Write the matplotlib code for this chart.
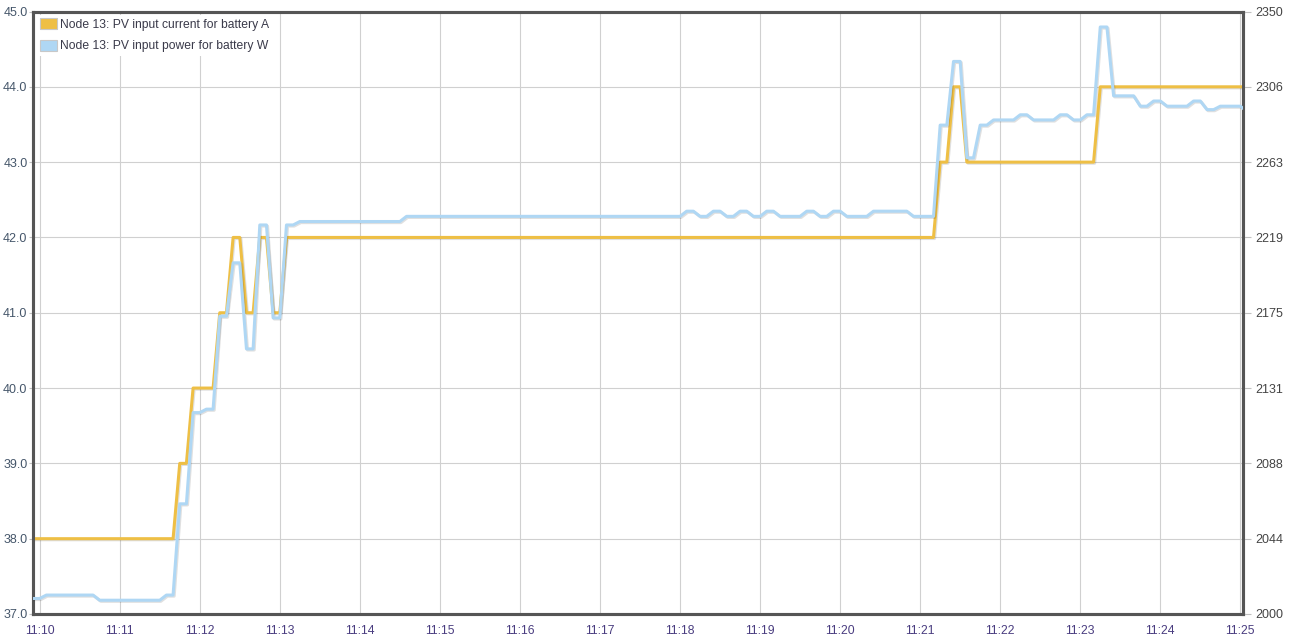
"""
PV input current / power for node 13, 11:10 - 11:25
"""

from datetime import datetime, timedelta
import matplotlib
matplotlib.use('Agg')
import matplotlib.pyplot as plt
import matplotlib.dates as mdates
import matplotlib.patheffects as pe
from matplotlib.patches import Patch

BASE = datetime(2020, 1, 1, 11, 10)

# current (A): seconds after 11:10, value
current_t = [-5, 100, 105, 110, 115, 130, 135, 140, 145, 150, 155, 160, 165,
             170, 175, 180, 185, 670, 675, 680, 685, 690, 695, 790, 795, 905]
current_v = [38, 38, 39, 39, 40, 40, 41, 41, 42, 42, 41, 41, 42,
             42, 41, 41, 42, 42, 43, 43, 44, 44, 43, 43, 44, 44]

# power (W): seconds after 11:10, value
power_t = [-5, 0, 5, 40, 45, 90, 95, 100, 105, 110, 115, 120, 125, 130, 135,
           140, 145, 150, 155, 160, 165, 170, 175, 180, 185, 190, 195, 270,
           275, 480, 485, 490, 495, 500, 505, 510, 515, 520, 525, 530, 535,
           540, 545, 550, 555, 570, 575, 580, 585, 590, 595, 600, 605, 620,
           625, 650, 655, 670, 675, 680, 685, 690, 695, 700, 705, 710, 715,
           730, 735, 740, 745, 760, 765, 770, 775, 780, 785, 790, 795, 800,
           805, 820, 825, 830, 835, 840, 845, 860, 865, 870, 875, 880, 885,
           900, 905]
power_v = [2009, 2009, 2011, 2011, 2008, 2008, 2011, 2011, 2064, 2064, 2117,
           2117, 2119, 2119, 2173, 2173, 2204, 2204, 2154, 2154, 2226, 2226,
           2172, 2172, 2226, 2226, 2228, 2228, 2231, 2231, 2234, 2234, 2231,
           2231, 2234, 2234, 2231, 2231, 2234, 2234, 2231, 2231, 2234, 2234,
           2231, 2231, 2234, 2234, 2231, 2231, 2234, 2234, 2231, 2231, 2234,
           2234, 2231, 2231, 2284, 2284, 2321, 2321, 2265, 2265, 2284, 2284,
           2287, 2287, 2290, 2290, 2287, 2287, 2290, 2290, 2287, 2287, 2290,
           2290, 2341, 2341, 2301, 2301, 2295, 2295, 2298, 2298, 2295, 2295,
           2298, 2298, 2293, 2293, 2295, 2295, 2292]

left_ticks = [37, 38, 39, 40, 41, 42, 43, 44, 45]
right_ticks = [2000 + 43.75 * i for i in range(9)]

ORANGE = '#EEBF45'
BLUE = '#AFD7F4'

plt.rcParams['font.family'] = ['Liberation Sans', 'DejaVu Sans']

fig = plt.figure(figsize=(12.97, 6.44), dpi=100)
ax = fig.add_axes([33 / 1297, 30 / 644, 1210 / 1297, 602.5 / 644])
ax2 = ax.twinx()

shadow = [pe.SimpleLineShadow(offset=(0.8, -0.8), shadow_color='black', alpha=0.12),
          pe.Normal()]

ct = [BASE + timedelta(seconds=s) for s in current_t]
pt = [BASE + timedelta(seconds=s) for s in power_t]

ax.plot(ct, current_v, color=ORANGE, lw=2.2, path_effects=shadow, zorder=3)
ax2.plot(pt, power_v, color=BLUE, lw=2.2, path_effects=shadow, zorder=3)

ax.set_xlim(BASE - timedelta(seconds=5), BASE + timedelta(seconds=902))
ax.set_ylim(37, 45)
ax2.set_ylim(2000, 2350)

ax.xaxis.set_major_locator(mdates.MinuteLocator())
ax.xaxis.set_major_formatter(mdates.DateFormatter('%H:%M'))
ax.set_yticks(left_ticks)
ax.set_yticklabels([f'{v:.1f}' for v in left_ticks])
ax2.set_yticks(right_ticks)
ax2.set_yticklabels([str(int(v + 0.5)) for v in right_ticks])

ax.grid(True, color='#d0d0d0', lw=0.8)
ax.set_axisbelow(True)

ax.tick_params(axis='x', length=0, pad=8, labelsize=8.8, labelcolor='#4a3d80')
ax.tick_params(axis='y', length=3, width=0.8, color='#c0c0c0', pad=1,
               labelsize=9, labelcolor='#45566a')
ax2.tick_params(axis='y', length=6, width=0.8, color='#c0c0c0', pad=3,
                labelsize=9, labelcolor='#444444')

for a in (ax, ax2):
    for s in a.spines.values():
        s.set_color('#555555')
        s.set_linewidth(2.2)

handles = [Patch(facecolor=ORANGE, edgecolor='#c8c8c8', lw=0.8),
           Patch(facecolor=BLUE, edgecolor='#c8c8c8', lw=0.8)]
labels = ['Node 13: PV input current for battery A',
          'Node 13: PV input power for battery W']
leg = ax2.legend(handles, labels, loc='upper left', bbox_to_anchor=(0.0, 1.0),
                 fontsize=8.7, frameon=True, fancybox=False, framealpha=1.0,
                 edgecolor='none', handlelength=1.45, handleheight=1.0,
                 handletextpad=0.2, labelspacing=0.75, borderpad=0.3,
                 borderaxespad=0.25)
for t in leg.get_texts():
    t.set_color('#3a3a4a')

plt.savefig('out.png', dpi=100)
